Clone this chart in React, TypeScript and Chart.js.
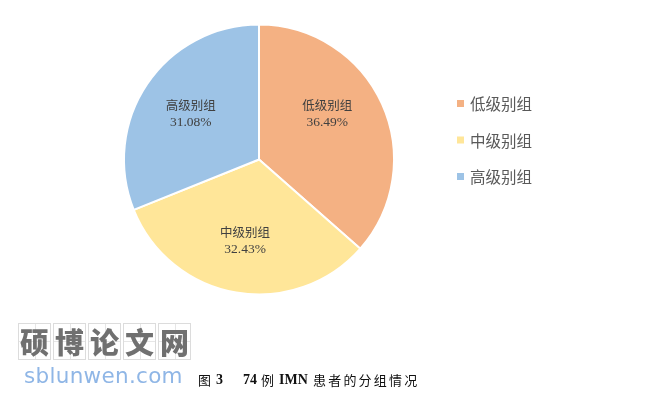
import React, { useEffect, useRef } from "react";
import { Chart, registerables } from "chart.js";

Chart.register(...registerables);

const categories = ["低级别组", "中级别组", "高级别组"];
const percentValues = [36.49, 32.43, 31.08];
const sliceColors = ["#F4B183", "#FFE699", "#9DC3E6"];

const labelPlugin = {
  id: "pieLabels",
  afterDatasetsDraw(chart: any) {
    const ctx = chart.ctx;
    const meta = chart.getDatasetMeta(0);
    ctx.save();
    ctx.textAlign = "center";
    ctx.textBaseline = "middle";
    meta.data.forEach((arc: any, i: number) => {
      const p = arc.getProps(["x", "y", "startAngle", "endAngle", "outerRadius"], true);
      let mid = (p.startAngle + p.endAngle) / 2;
      if (i === 0) mid -= 0.17;
      const r = p.outerRadius * 0.61;
      const cx = p.x + Math.cos(mid) * r;
      const cy = p.y + Math.sin(mid) * r;
      ctx.fillStyle = "#404040";
      ctx.font = '12.5px "Noto Sans CJK SC", sans-serif';
      ctx.fillText(categories[i], cx, cy - 8);
      ctx.font = '13.5px "Liberation Serif", serif';
      ctx.fillText(percentValues[i].toFixed(2) + "%", cx, cy + 9);
    });
    // legend
    const lx = 457;
    const ly0 = 103.5;
    const step = 36.5;
    categories.forEach((c, i) => {
      const y = ly0 + i * step;
      ctx.fillStyle = sliceColors[i];
      ctx.fillRect(lx, y - 3.5, 7, 7);
      ctx.fillStyle = "#595959";
      ctx.textAlign = "left";
      ctx.font = '15.5px "Noto Sans CJK SC", sans-serif';
      ctx.fillText(c, lx + 13, y + 1);
    });
    ctx.restore();
  },
};

const cjk = '"Noto Sans CJK SC", sans-serif';
const serif = '"Liberation Serif", serif';

export default function App() {
  const ref = useRef<HTMLCanvasElement>(null);
  useEffect(() => {
    if (!ref.current) return;
    const chart = new Chart(ref.current, {
      type: "pie",
      data: {
        labels: categories,
        datasets: [
          {
            data: percentValues,
            backgroundColor: sliceColors,
            borderColor: "#ffffff",
            borderWidth: 2,
          },
        ],
      },
      options: {
        animation: false,
        responsive: false,
        layout: { padding: { left: 123, right: 273, top: 23, bottom: 100 } },
        plugins: { legend: { display: false }, tooltip: { enabled: false } },
      },
      plugins: [labelPlugin],
    });
    return () => chart.destroy();
  }, []);

  const wmChars = ["硕", "博", "论", "文", "网"];
  const capStyle = (left: number, font: string, bold: boolean, ls = 0): React.CSSProperties => ({
    position: "absolute",
    left,
    top: 371,
    fontFamily: font,
    fontWeight: bold ? 700 : 400,
    fontSize: font === serif ? 14 : 13,
    letterSpacing: ls,
    color: "#111",
    lineHeight: "18px",
    whiteSpace: "pre",
  });
  return (
    <div style={{ position: "fixed", left: 0, top: 0, width: 668, height: 396, background: "#fff", overflow: "hidden" }}>
      <canvas ref={ref} width={668} height={396} style={{ position: "absolute", left: 0, top: 0 }} />
      <div style={{ position: "absolute", left: 18, top: 323, display: "flex" }}>
        {wmChars.map((c, i) => (
          <div
            key={i}
            style={{
              position: "relative",
              width: 33,
              height: 37,
              marginRight: 2,
              border: "1px solid #dcdcdc",
              boxSizing: "border-box",
              display: "flex",
              alignItems: "center",
              justifyContent: "center",
              fontFamily: cjk,
              fontWeight: 900,
              fontSize: 29,
              color: "#707070",
              lineHeight: 1,
            }}
          >
            <div style={{ position: "absolute", left: 16, top: 0, width: 0, height: 35, borderLeft: "1px solid #e6e6e6" }} />
            <div style={{ position: "absolute", left: 0, top: 17, width: 31, height: 0, borderTop: "1px solid #e6e6e6" }} />
            <span style={{ position: "relative" }}>{c}</span>
          </div>
        ))}
      </div>
      <div
        style={{
          position: "absolute",
          left: 24,
          top: 362,
          fontFamily: '"DejaVu Sans", sans-serif',
          fontSize: 21.5,
          color: "#8fb6e6",
          lineHeight: "28px",
          letterSpacing: 0.3,
        }}
      >
        sblunwen.com
      </div>
      <div style={capStyle(198, cjk, false)}>图</div>
      <div style={capStyle(216, serif, true)}>3</div>
      <div style={capStyle(243, serif, true)}>74</div>
      <div style={capStyle(261, cjk, false)}>例</div>
      <div style={capStyle(279, serif, true)}>IMN</div>
      <div style={capStyle(313, cjk, false, 2.2)}>患者的分组情况</div>
    </div>
  );
}
